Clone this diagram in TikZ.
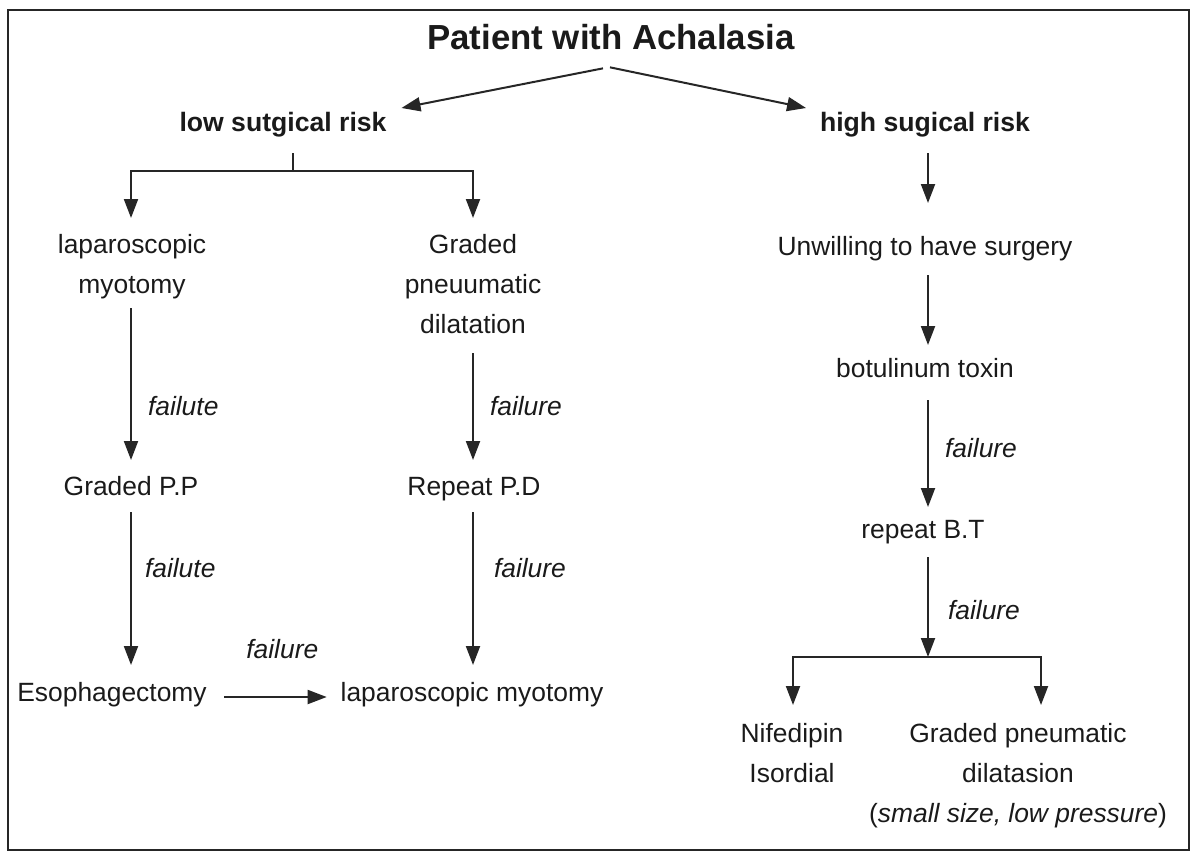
\documentclass[tikz,border=0pt]{standalone}
\usepackage{fontspec}
\setmainfont{Liberation Sans}
\usetikzlibrary{arrows.meta,calc}
\definecolor{ink}{HTML}{1A1A1A}
\definecolor{wire}{HTML}{262626}
\begin{document}
\begin{tikzpicture}[x=0.5pt,y=-0.5pt,
  every node/.style={inner sep=0pt, outer sep=0pt, text=ink},
  txt/.style={font=\fontsize{13.2}{20}\selectfont, text height=9.5pt, text depth=2.75pt, anchor=base},
  multi/.style={font=\fontsize{13.2}{20}\selectfont, align=center, anchor=north},
  risk/.style={font=\fontsize{13.3}{16}\selectfont\bfseries, text height=9.5pt, text depth=2.75pt, anchor=base},
  ttl/.style={font=\fontsize{17.4}{21}\selectfont\bfseries, anchor=base},
  lbl/.style={font=\fontsize{13.2}{16}\selectfont\itshape, anchor=base west},
  conn/.style={draw=wire, line width=1pt},
  arr/.style={conn, -{Triangle[length=9.5pt,width=7pt]}},
  frame/.style={draw=wire, line width=1.1pt}]
\useasboundingbox (0,0) rectangle (1192,856);
\draw[frame] (8,10) rectangle (1189,850);

% nodes
\node[ttl] (T) at (611,50) {Patient with Achalasia};
\node[risk] (low) at (283,132) {low sutgical risk};
\node[risk] (high) at (925,132) {high sugical risk};
\node[multi] (lap) at (132,234) {laparoscopic\\myotomy};
\node[multi] (gpd) at (473,234) {Graded\\pneuumatic\\dilatation};
\node[txt] (gpp) at (131,495) {Graded P.P};
\node[txt] (rpd) at (474,495) {Repeat P.D};
\node[txt] (eso) at (112,701) {Esophagectomy};
\node[txt] (lm2) at (472,701) {laparoscopic myotomy};
\node[txt] (unw) at (925,255) {Unwilling to have surgery};
\node[txt] (bot) at (925,377) {botulinum toxin};
\node[txt] (rbt) at (923,538) {repeat B.T};
\node[multi] (nif) at (792,723) {Nifedipin\\Isordial};
\node[multi] (gpd2) at (1018,723) {Graded pneumatic\\dilatasion\\(\textit{small size, low pressure})};

% top split
\draw[arr] ($(T.south)+(-8,18)$) -- ($(low.north east)+(15,-5)$);
\draw[arr] ($(T.south)+(-1,17)$) -- ($(high.north west)+(-14,-5)$);

% left branch
\coordinate (lj) at ($(low.south)+(10,33.5)$);
\draw[conn] ($(low.south)+(10,15.5)$) -- (lj);
\draw[arr] (lj) -| ($(lap.north)+(-1,-16)$);
\draw[arr] (lj) -| ($(gpd.north)+(0,-16)$);
\draw[arr] ($(lap.south)+(-1,9.5)$) -- node[lbl,pos=0.704,xshift=8.5pt]{failute} ($(gpp.north)+(0,-16)$);
\draw[arr] ($(gpd.south)+(0,20)$) -- node[lbl,pos=0.579,xshift=8.5pt]{failure} ($(rpd.north)+(-1,-16)$);
\draw[arr] ($(gpp.south)+(0,11.5)$) -- node[lbl,pos=0.425,xshift=7pt]{failute} ($(gpp.south |- eso.north)+(0,-17)$);
\draw[arr] ($(rpd.south)+(-1,11.5)$) -- node[lbl,pos=0.425,xshift=10.5pt]{failure} ($(rpd.south |- lm2.north)+(-1,-17)$);
\draw[arr] ($(eso.east)+(17.5,2.75)$) -- node[lbl,anchor=base,pos=0.567,yshift=19.5pt]{failure} ($(lm2.west)+(-14,2.75)$);

% right branch
\draw[arr] ($(high.south)+(3,15.5)$) -- ($(unw.north)+(3,-33)$);
\draw[arr] ($(unw.south)+(3,14.5)$) -- ($(bot.north)+(3,-13)$);
\draw[arr] ($(bot.south)+(3,17.5)$) -- node[lbl,pos=0.533,xshift=8.5pt]{failure} ($(rbt.north)+(5,-12)$);
\coordinate (rj) at ($(rbt.south)+(5,113.5)$);
\draw[arr] ($(rbt.south)+(5,13.5)$) -- node[lbl,pos=0.622,xshift=10pt]{failure} (rj);
\draw[arr] (rj) -| ($(nif.north)+(1,-18)$);
\draw[arr] (rj) -| ($(gpd2.north)+(23,-18)$);
\end{tikzpicture}
\end{document}
